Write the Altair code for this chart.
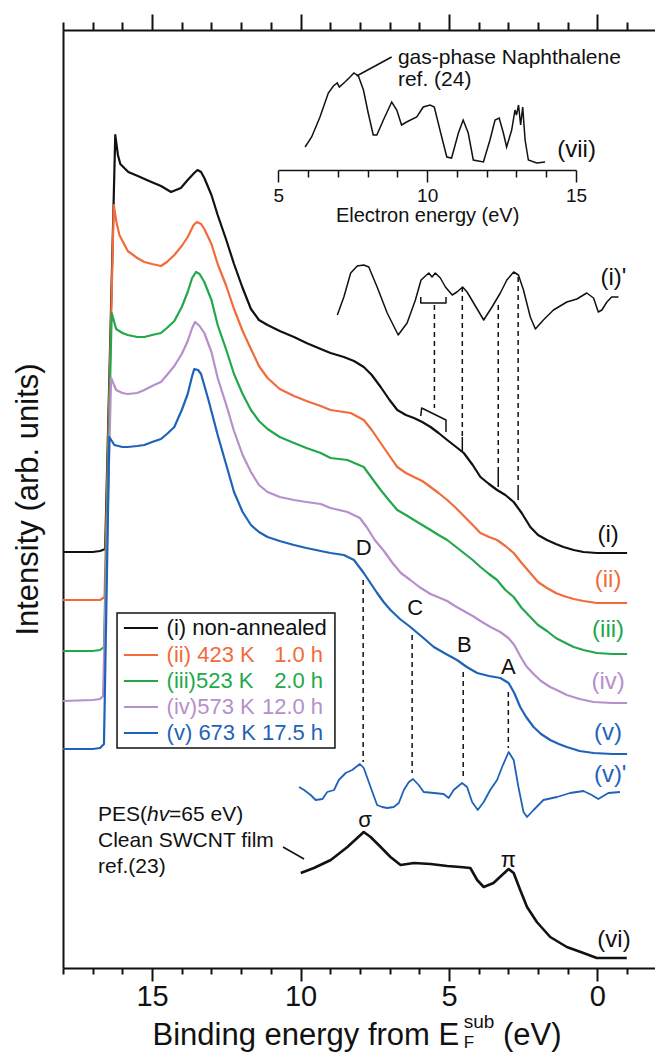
import altair as alt
import pandas as pd

FONT = "Liberation Sans"
BLACK = "#111111"
ORANGE = "#F26B3A"
GREEN = "#22A84A"
PURPLE = "#B68FCB"
BLUE = "#1F63B8"

# ---------------- data: (binding energy eV, intensity arb. units) ----------------
SPEC_I = [(18.0, 416), (17.0, 416), (16.75, 417), (16.58, 419), (16.24, 833), (16.15, 813), (16.07, 804),
          (15.8, 796), (15.48, 792), (15.1, 787), (14.7, 782), (14.36, 776), (14.03, 780), (13.8, 788),
          (13.58, 795), (13.47, 798), (13.35, 796), (13.24, 790), (13.0, 773), (12.79, 753), (12.5, 728),
          (12.24, 704), (11.95, 680), (11.67, 659), (11.4, 648), (11.11, 643), (10.7, 637), (10.22, 631),
          (9.8, 625), (9.32, 619), (8.99, 615), (8.54, 611), (8.2, 607), (7.87, 601), (7.6, 593), (7.3, 581),
          (7.0, 568), (6.74, 558), (6.45, 553), (6.18, 550), (5.9, 546), (5.62, 541), (5.35, 535), (5.06, 528),
          (4.8, 522), (4.5, 515), (4.2, 503), (3.94, 491), (3.65, 484), (3.38, 478), (3.1, 473), (2.82, 466),
          (2.55, 455), (2.26, 441), (2.0, 433), (1.7, 428), (1.4, 424), (1.14, 421), (0.8, 418), (0.47, 416),
          (0.02, 415), (-0.5, 415), (-1.0, 415)]
SPEC_II = [(18.0, 368), (17.0, 368), (16.75, 368), (16.6, 371), (16.29, 763), (16.2, 746), (16.1, 733),
           (15.82, 717), (15.5, 710), (15.26, 706), (15.0, 704), (14.7, 702), (14.5, 706), (14.25, 713),
           (14.0, 722), (13.8, 731), (13.6, 743), (13.49, 746), (13.35, 744), (13.24, 739), (13.0, 724),
           (12.79, 704), (12.5, 682), (12.24, 659), (11.95, 637), (11.67, 619), (11.4, 602), (11.11, 590),
           (10.7, 579), (10.22, 572), (9.8, 567), (9.32, 562), (8.99, 558), (8.31, 555), (7.87, 548), (7.6, 538),
           (7.3, 525), (7.0, 512), (6.74, 501), (6.45, 495), (6.18, 491), (5.9, 487), (5.62, 481), (5.35, 475),
           (5.06, 468), (4.8, 461), (4.5, 452), (4.2, 443), (3.94, 435), (3.65, 431), (3.38, 428), (3.1, 422),
           (2.82, 415), (2.55, 405), (2.26, 395), (2.0, 386), (1.7, 380), (1.4, 375), (1.14, 372), (0.8, 369),
           (0.47, 367), (0.02, 365), (-0.5, 365), (-1.0, 365)]
SPEC_III = [(18.0, 317), (17.0, 317), (16.75, 318), (16.62, 321), (16.36, 655), (16.21, 639), (16.0, 635),
            (15.82, 633), (15.5, 631), (15.26, 631), (15.0, 633), (14.7, 635), (14.5, 640), (14.25, 647),
            (14.0, 661), (13.8, 676), (13.65, 690), (13.52, 696), (13.4, 694), (13.24, 686), (13.0, 668),
            (12.79, 643), (12.5, 618), (12.24, 594), (11.95, 574), (11.67, 558), (11.4, 547), (11.11, 539),
            (10.7, 531), (10.22, 525), (9.8, 520), (9.32, 515), (8.99, 510), (8.42, 508), (7.87, 501), (7.6, 490),
            (7.3, 478), (7.0, 467), (6.74, 458), (6.45, 453), (6.18, 448), (5.9, 443), (5.62, 438), (5.35, 433),
            (5.06, 428), (4.8, 422), (4.5, 415), (4.2, 408), (3.94, 401), (3.65, 394), (3.38, 388), (3.1, 378),
            (2.82, 371), (2.55, 360), (2.26, 351), (2.0, 343), (1.7, 337), (1.4, 330), (1.14, 326), (0.8, 321),
            (0.47, 318), (0.02, 315), (-0.5, 314), (-1.0, 314)]
SPEC_IV = [(18.0, 267), (17.0, 268), (16.75, 269), (16.65, 272), (16.38, 590), (16.21, 578), (16.0, 575),
           (15.82, 574), (15.5, 575), (15.26, 578), (15.0, 582), (14.7, 586), (14.5, 593), (14.25, 602),
           (14.0, 614), (13.8, 627), (13.65, 640), (13.55, 646), (13.4, 642), (13.24, 635), (13.0, 616),
           (12.79, 590), (12.5, 563), (12.24, 537), (11.95, 513), (11.67, 496), (11.4, 483), (11.11, 476),
           (10.7, 471), (10.22, 468), (9.8, 466), (9.32, 464), (8.99, 460), (8.42, 456), (8.0, 450), (7.75, 440),
           (7.5, 428), (7.19, 417), (6.9, 405), (6.62, 395), (6.3, 388), (6.0, 381), (5.62, 374), (5.3, 370),
           (5.06, 367), (4.8, 362), (4.5, 357), (4.2, 352), (3.94, 347), (3.6, 341), (3.27, 336), (3.0, 330),
           (2.8, 323), (2.6, 312), (2.4, 302), (2.15, 294), (1.9, 287), (1.59, 281), (1.3, 277), (1.03, 273),
           (0.6, 269), (0.13, 266), (-0.5, 265), (-1.0, 265)]
SPEC_V = [(18.0, 219), (17.0, 219), (16.75, 220), (16.62, 224), (16.44, 531), (16.27, 523), (16.0, 521),
          (15.82, 521), (15.5, 522), (15.26, 523), (15.0, 526), (14.7, 529), (14.5, 534), (14.25, 541),
          (14.0, 558), (13.8, 574), (13.65, 592), (13.58, 599), (13.45, 598), (13.35, 594), (13.1, 568),
          (12.79, 533), (12.5, 503), (12.24, 476), (11.95, 456), (11.67, 443), (11.4, 436), (11.11, 431),
          (10.7, 427), (10.22, 423), (9.8, 420), (9.32, 417), (8.99, 415), (8.54, 413), (8.2, 408), (7.87, 395),
          (7.6, 383), (7.42, 375), (7.2, 366), (6.97, 358), (6.65, 349), (6.3, 341), (5.9, 331), (5.51, 321),
          (5.1, 314), (4.73, 308), (4.4, 301), (4.05, 295), (3.65, 292), (3.27, 290), (2.99, 285), (2.8, 275),
          (2.6, 261), (2.4, 251), (2.15, 241), (1.9, 234), (1.59, 228), (1.3, 224), (1.03, 221), (0.6, 217),
          (0.13, 215), (-0.5, 214), (-1.0, 214)]
# second-derivative-like curves
DERIV_I = [(8.76, 653), (8.54, 671), (8.31, 695), (8.09, 702), (7.87, 703), (7.70, 701), (7.42, 681),
           (7.08, 655), (6.71, 633), (6.41, 645), (6.13, 668), (5.94, 688), (5.68, 695), (5.57, 691),
           (5.46, 695), (5.29, 690), (5.12, 681), (4.89, 673), (4.73, 676), (4.54, 681), (4.39, 676),
           (4.17, 665), (3.83, 648), (3.55, 661), (3.27, 675), (3.05, 688), (2.82, 696), (2.66, 693),
           (2.49, 678), (2.26, 651), (2.09, 639), (1.82, 648), (1.48, 658), (1.03, 666), (0.69, 669),
           (0.36, 675), (0.13, 670), (-0.03, 656), (-0.15, 658), (-0.32, 666), (-0.48, 671), (-0.71, 671)]
DERIV_V = [(10.05, 181), (9.88, 178), (9.66, 173), (9.49, 168), (9.26, 169), (9.10, 176), (8.87, 178),
           (8.71, 188), (8.48, 195), (8.26, 198), (8.00, 204), (7.87, 200), (7.64, 181), (7.42, 163),
           (7.25, 161), (7.08, 160), (6.86, 161), (6.69, 165), (6.52, 178), (6.35, 186), (6.21, 189),
           (6.02, 183), (5.85, 176), (5.51, 175), (5.18, 174), (5.01, 170), (4.84, 178), (4.56, 185),
           (4.39, 181), (4.22, 166), (4.03, 158), (3.83, 166), (3.61, 178), (3.38, 188), (3.21, 201),
           (2.99, 216), (2.82, 208), (2.66, 181), (2.49, 156), (2.37, 151), (2.15, 158), (1.82, 168),
           (1.36, 171), (0.92, 175), (0.47, 177), (0.19, 173), (-0.03, 169), (-0.37, 175), (-0.76, 176)]
# (vi) PES clean SWCNT film
PES_VI = [(9.99, 95), (9.55, 100), (8.98, 108), (8.42, 121), (8.09, 130), (7.87, 136), (7.64, 131),
          (7.30, 121), (6.97, 111), (6.63, 103), (6.18, 105), (5.62, 104), (5.06, 102), (4.62, 101),
          (4.28, 100), (4.05, 88), (3.83, 81), (3.50, 85), (3.21, 93), (2.99, 99), (2.82, 95), (2.60, 78),
          (2.37, 61), (2.04, 46), (1.59, 31), (1.03, 21), (0.47, 15), (0.02, 10), (-0.99, 10)]
# (vii) gas-phase naphthalene: (electron energy eV, intensity)
NAPH = [(5.90, 821), (6.12, 831), (6.40, 851), (6.68, 875), (6.85, 882), (6.98, 885), (7.05, 881),
        (7.24, 886), (7.41, 891), (7.54, 895), (7.69, 892), (7.86, 878), (8.02, 855), (8.19, 833),
        (8.31, 833), (8.53, 848), (8.81, 866), (8.98, 858), (9.14, 843), (9.31, 846), (9.65, 851),
        (9.87, 861), (10.10, 863), (10.24, 861), (10.43, 838), (10.66, 811), (10.82, 810), (11.05, 835),
        (11.21, 848), (11.38, 835), (11.55, 808), (11.89, 806), (12.11, 828), (12.28, 848), (12.42, 850),
        (12.56, 835), (12.67, 821), (12.84, 838), (12.95, 858), (13.00, 853), (13.07, 863), (13.14, 843),
        (13.21, 861), (13.29, 828), (13.40, 808), (13.68, 805), (13.96, 806)]

CURVE_LABELS = [("(i)", -0.36, 433, BLACK), ("(ii)", -0.36, 388, ORANGE), ("(iii)", -0.36, 338, GREEN),
                ("(iv)", -0.36, 286, PURPLE), ("(v)", -0.36, 235, BLUE), ("(v)'", -0.43, 193, BLUE),
                ("(vi)", -0.56, 28, BLACK), ("(i)'", -0.54, 690, BLACK), ("(vii)", 0.70, 818, BLACK)]
PEAK_LABELS = [("D", 7.87, 420), ("C", 6.14, 360), ("B", 4.48, 323), ("A", 3.0, 301),
               ("σ", 7.83, 148), ("π", 3.0, 108)]
DASH_V = [(7.89, 388, 206), (6.24, 333, 195), (4.52, 296, 191), (3.0, 276, 220)]
DASH_I = [(5.49, 663, 560), (4.55, 681, 531), (3.34, 663, 501), (2.67, 691, 488)]
SOLID_I = [(4.55, 531, 516), (3.34, 501, 481), (2.67, 483, 468)]
BRACKET_TOP = [(5.95, 671), (5.95, 665), (5.10, 665), (5.10, 671)]
BRACKET_BOT = [(5.95, 552), (5.92, 560), (5.10, 548), (5.10, 536)]
LEADERS = [(8.11, 892, 6.93, 911), (10.59, 121, 9.88, 109)]

LEG_NAMES = ["(i) non-annealed", "(ii) 423 K", "(iii)523 K", "(iv)573 K", "(v) 673 K"]
LEG_TIMES = ["", "1.0 h", "2.0 h", "12.0 h", "17.5 h"]
LEG_COLORS = [BLACK, ORANGE, GREEN, PURPLE, BLUE]
LEG_ROWS = [340, 313, 287, 261, 235]

# ---------------- scales & helpers ----------------
XS = alt.Scale(domain=[-1.94, 18.0], reverse=True, nice=False, zero=False)
YS = alt.Scale(domain=[0, 938], nice=False, zero=False)
XS_INSET = alt.Scale(domain=[5, 15], range=[215.3, 513], nice=False, zero=False)


def xe(axis=None):
    return alt.X("E:Q", scale=XS, axis=axis)


def yi(axis=None):
    return alt.Y("I:Q", scale=YS, axis=axis)


def curve(pairs, color, width):
    df = pd.DataFrame(pairs, columns=["E", "I"])
    df["k"] = range(len(df))
    return alt.Chart(df).mark_line(color=color, strokeWidth=width, strokeJoin="round").encode(
        x=xe(), y=yi(), order="k:Q")


def texts(rows, size=22, align="center", baseline="middle", style="normal", dx=0, color=BLACK):
    df = pd.DataFrame(rows, columns=["t", "E", "I"])
    return alt.Chart(df).mark_text(font=FONT, fontSize=size, align=align, baseline=baseline,
                                   fontStyle=style, dx=dx, color=color).encode(x=xe(), y=yi(), text="t:N")


def vrules(rows, dash=None, width=1.5):
    df = pd.DataFrame(rows, columns=["E", "I", "I2"])
    kw = dict(color=BLACK, strokeWidth=width)
    if dash:
        kw["strokeDash"] = dash
    return alt.Chart(df).mark_rule(**kw).encode(x=xe(), y=yi(), y2="I2:Q")


layers = []

# axes carriers
major = "datum.value % 5 === 0"
bottom_axis = alt.Axis(orient="bottom", values=list(range(-1, 19)),
                       labelExpr=f"{major} ? datum.label : ''",
                       tickSize={"condition": {"test": major, "value": 13}, "value": 6},
                       tickWidth=2, tickColor=BLACK, domainWidth=2, domainColor=BLACK,
                       labelFont=FONT, labelFontSize=29, labelColor=BLACK, labelPadding=1,
                       labelFlush=False, labelOverlap=False, grid=False, title=None)
top_axis = alt.Axis(orient="top", values=list(range(-1, 19)), labels=False,
                    tickSize={"condition": {"test": major, "value": 16}, "value": 8},
                    tickWidth=2, tickColor=BLACK, domainWidth=2, domainColor=BLACK,
                    grid=False, title=None)
left_axis = alt.Axis(orient="left", ticks=False, labels=False, domainWidth=2, domainColor=BLACK,
                     grid=False, title="Intensity (arb. units)", titleFont=FONT, titleFontSize=31,
                     titleFontWeight="normal", titleColor=BLACK, titlePadding=19)
carrier = pd.DataFrame(SPEC_I, columns=["E", "I"])
layers.append(alt.Chart(carrier).mark_point(opacity=0).encode(x=xe(bottom_axis), y=yi(left_axis)))
layers.append(alt.Chart(carrier).mark_point(opacity=0).encode(x=xe(top_axis), y=yi()))

# main spectra
for pairs, col in [(SPEC_I, BLACK), (SPEC_II, ORANGE), (SPEC_III, GREEN), (SPEC_IV, PURPLE), (SPEC_V, BLUE)]:
    layers.append(curve(pairs, col, 2.2))
layers.append(curve(DERIV_I, BLACK, 1.5))
layers.append(curve(DERIV_V, BLUE, 1.8))
layers.append(curve(PES_VI, BLACK, 2.6))
layers.append(curve(BRACKET_TOP, BLACK, 1.5))
layers.append(curve(BRACKET_BOT, BLACK, 1.5))

# inset (vii) with its own electron-energy axis
inset_axis = alt.Axis(orient="bottom", offset=-798, values=list(range(5, 16)),
                      labelExpr=f"{major} ? datum.label : ''",
                      tickSize={"condition": {"test": major, "value": 12}, "value": 7},
                      tickWidth=1.5, tickColor=BLACK, domainWidth=1.5, domainColor=BLACK,
                      labelFont=FONT, labelFontSize=19, labelColor=BLACK, labelPadding=4,
                      labelFlush=False, labelOverlap=False, grid=False,
                      title="Electron energy (eV)", titleFont=FONT, titleFontSize=20,
                      titleFontWeight="normal", titleColor=BLACK, titlePadding=0)
naph = pd.DataFrame(NAPH, columns=["e", "I"])
naph["k"] = range(len(naph))
layers.append(alt.Chart(naph).mark_line(color=BLACK, strokeWidth=1.5).encode(
    x=alt.X("e:Q", scale=XS_INSET, axis=inset_axis), y=yi(), order="k:Q"))

# dashed guide lines
layers.append(vrules(DASH_V, dash=[5, 4]))
layers.append(vrules(DASH_I, dash=[5, 4]))
layers.append(vrules(SOLID_I))
lead = pd.DataFrame(LEADERS, columns=["E", "I", "E2", "I2"])
layers.append(alt.Chart(lead).mark_rule(color=BLACK, strokeWidth=1.5).encode(
    x=xe(), y=yi(), x2="E2:Q", y2="I2:Q"))

# labels
cl = pd.DataFrame(CURVE_LABELS, columns=["t", "E", "I", "c"])
layers.append(alt.Chart(cl).mark_text(font=FONT, fontSize=24, align="center", baseline="middle").encode(
    x=xe(), y=yi(), text="t:N", color=alt.Color("c:N", scale=None)))
layers.append(texts(PEAK_LABELS, size=22))
layers.append(texts([("gas-phase Naphthalene", 6.72, 910), ("ref. (24)", 6.72, 888)], size=21, align="left"))
layers.append(texts([("PES(", 16.82, 153)], size=21, align="left"))
layers.append(texts([("hv", 16.82, 153)], size=21, align="left", style="italic", dx=49))
layers.append(texts([("=65 eV)", 16.82, 153)], size=21, align="left", dx=71))
layers.append(texts([("Clean SWCNT film", 16.82, 127), ("ref.(23)", 16.82, 101)], size=21, align="left"))

# x-axis title with sub/superscript
layers.append(texts([("Binding energy from E", 9.82, -77)], size=31, baseline="alphabetic"))
layers.append(texts([("sub", 4.50, -60)], size=19, align="left", baseline="alphabetic"))
layers.append(texts([("F", 4.50, -80)], size=17, align="left", baseline="alphabetic"))
layers.append(texts([("(eV)", 3.18, -77)], size=31, align="left", baseline="alphabetic"))

# legend
box = pd.DataFrame([(16.18, 355, 8.84, 220)], columns=["E", "I", "E2", "I2"])
layers.append(alt.Chart(box).mark_rect(fill="white", stroke=BLACK, strokeWidth=1.5).encode(
    x=xe(), y=yi(), x2="E2:Q", y2="I2:Q"))
leg = pd.DataFrame({"n": LEG_NAMES, "t": LEG_TIMES, "c": LEG_COLORS, "I": LEG_ROWS})
leg["E"] = 15.95
leg["E2"] = 14.80
leg["Et"] = 14.51
leg["Er"] = 9.24
layers.append(alt.Chart(leg).mark_rule(strokeWidth=2).encode(
    x=xe(), x2="E2:Q", y=yi(), color=alt.Color("c:N", scale=None)))
layers.append(alt.Chart(leg).mark_text(font=FONT, fontSize=22, align="left", baseline="middle").encode(
    x=alt.X("Et:Q", scale=XS, axis=None), y=yi(), text="n:N", color=alt.Color("c:N", scale=None)))
layers.append(alt.Chart(leg).mark_text(font=FONT, fontSize=22, align="right", baseline="middle").encode(
    x=alt.X("Er:Q", scale=XS, axis=None), y=yi(), text="t:N", color=alt.Color("c:N", scale=None)))

chart = alt.layer(*layers).resolve_scale(x="independent").resolve_axis(
    x="independent", y="independent").properties(
    width=592, height=938,
    padding={"left": 63, "top": 30, "right": 0, "bottom": 87},
    autosize=alt.AutoSizeParams(type="none"),
    background="white",
).configure_view(stroke=None)

chart.save("out.html", embed_options={"renderer": "svg", "actions": False})
